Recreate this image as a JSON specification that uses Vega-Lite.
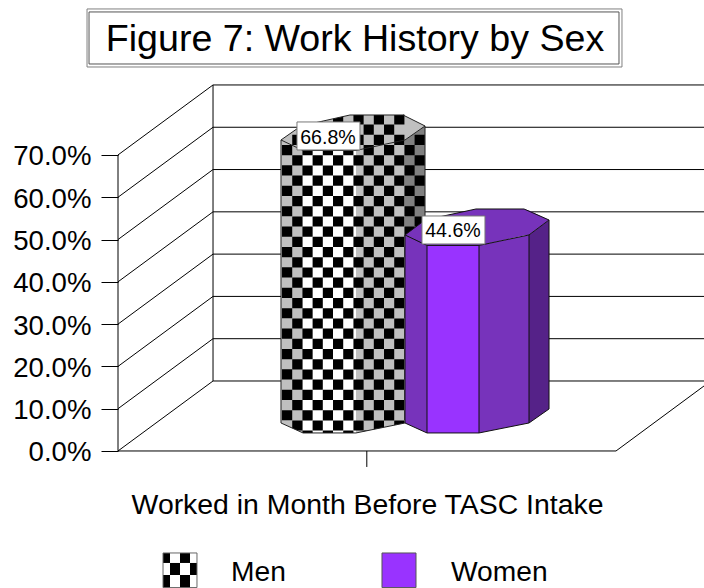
{"$schema":"https://vega.github.io/schema/vega-lite/v6.json","width":586,"height":588,"autosize":"none","padding":{"left":118,"top":0,"right":0,"bottom":0},"background":"white","config":{"view":{"stroke":null},"font":"Liberation Sans"},
"datasets":{
"grid":[
{"x":19.08,"x2":117.67,"y":16.55,"y2":16.55},{"x":19.08,"x2":117.67,"y":26.55,"y2":26.55},{"x":19.08,"x2":117.67,"y":36.55,"y2":36.55},{"x":19.08,"x2":117.67,"y":46.55,"y2":46.55},{"x":19.08,"x2":117.67,"y":56.55,"y2":56.55},{"x":19.08,"x2":117.67,"y":66.55,"y2":66.55},{"x":19.08,"x2":117.67,"y":76.55,"y2":76.55},{"x":19.08,"x2":117.67,"y":86.55,"y2":86.55},
{"x":0,"x2":19.08,"y":0,"y2":16.55},{"x":0,"x2":19.08,"y":10,"y2":26.55},{"x":0,"x2":19.08,"y":20,"y2":36.55},{"x":0,"x2":19.08,"y":30,"y2":46.55},{"x":0,"x2":19.08,"y":40,"y2":56.55},{"x":0,"x2":19.08,"y":50,"y2":66.55},{"x":0,"x2":19.08,"y":60,"y2":76.55},{"x":0,"x2":19.08,"y":70,"y2":86.55},
{"x":0,"x2":0,"y":0,"y2":70},{"x":19.08,"x2":19.08,"y":16.55,"y2":86.55},{"x":0,"x2":100,"y":0,"y2":0},{"x":100,"x2":117.67,"y":0,"y2":15.37},{"x":49.96,"x2":49.96,"y":0,"y2":-3.78}],
"faces":[
{"bar":"Men","part":"left","x":32.73,"y":6.62,"y2":73.54},{"bar":"Men","part":"left","x":37.15,"y":4.26,"y2":71.06},
{"bar":"Men","part":"front","x":37.15,"y":4.26,"y2":71.06},{"bar":"Men","part":"front","x":47.79,"y":4.26,"y2":71.06},
{"bar":"Men","part":"right","x":47.79,"y":4.26,"y2":71.06},{"bar":"Men","part":"right","x":57.63,"y":6.62,"y2":73.54},
{"bar":"Men","part":"side","x":57.63,"y":6.62,"y2":73.54},{"bar":"Men","part":"side","x":61.65,"y":9.93,"y2":76.85},
{"bar":"Men","part":"cap","x":32.73,"y":73.54,"y2":73.54},{"bar":"Men","part":"cap","x":36.75,"y":76.85,"y2":71.29},{"bar":"Men","part":"cap","x":37.15,"y":76.95,"y2":71.06},{"bar":"Men","part":"cap","x":46.59,"y":79.45,"y2":71.06},{"bar":"Men","part":"cap","x":47.79,"y":79.45,"y2":71.06},{"bar":"Men","part":"cap","x":57.23,"y":79.45,"y2":73.45},{"bar":"Men","part":"cap","x":57.63,"y":79.21,"y2":73.54},{"bar":"Men","part":"cap","x":61.65,"y":76.85,"y2":76.85},
{"bar":"Mask","part":"below","x":32.73,"y":6.62,"y2":3.55},{"bar":"Mask","part":"below","x":37.15,"y":4.26,"y2":3.55},{"bar":"Mask","part":"below","x":47.79,"y":4.26,"y2":3.55},{"bar":"Mask","part":"below","x":57.63,"y":6.62,"y2":3.55},
{"bar":"Mask","part":"above","x":36.75,"y":76.85,"y2":79.92},{"bar":"Mask","part":"above","x":46.59,"y":79.45,"y2":79.92},{"bar":"Mask","part":"above","x":57.23,"y":79.45,"y2":79.92},
{"bar":"Women","part":"wleft","x":57.63,"y":6.62,"y2":51.08},{"bar":"Women","part":"wleft","x":62.05,"y":4.26,"y2":48.6},
{"bar":"Women","part":"wfront","x":62.05,"y":4.26,"y2":48.6},{"bar":"Women","part":"wfront","x":72.49,"y":4.26,"y2":48.6},
{"bar":"Women","part":"wright","x":72.49,"y":4.26,"y2":48.6},{"bar":"Women","part":"wright","x":82.53,"y":6.62,"y2":51.08},
{"bar":"Women","part":"wside","x":82.53,"y":6.62,"y2":51.08},{"bar":"Women","part":"wside","x":86.55,"y":9.93,"y2":54.62},
{"bar":"Women","part":"wcap","x":57.63,"y":51.08,"y2":51.08},{"bar":"Women","part":"wcap","x":61.65,"y":54.62,"y2":48.84},{"bar":"Women","part":"wcap","x":62.05,"y":54.72,"y2":48.6},{"bar":"Women","part":"wcap","x":71.89,"y":57.22,"y2":48.6},{"bar":"Women","part":"wcap","x":72.49,"y":57.22,"y2":48.6},{"bar":"Women","part":"wcap","x":81.53,"y":57.22,"y2":50.94},{"bar":"Women","part":"wcap","x":82.53,"y":56.89,"y2":51.08},{"bar":"Women","part":"wcap","x":86.55,"y":54.62,"y2":54.62}],
"checks":[
{"x":33.96,"y":72.36,"y2":3.55},{"x":36.01,"y":74.77,"y2":3.55},{"x":38.06,"y":77.18,"y2":3.55},{"x":40.1,"y":79.59,"y2":3.55},{"x":42.15,"y":77.18,"y2":3.55},{"x":44.2,"y":79.59,"y2":3.55},{"x":46.25,"y":77.18,"y2":3.55},{"x":48.3,"y":79.59,"y2":3.55},{"x":50.34,"y":77.18,"y2":3.55},{"x":52.39,"y":79.59,"y2":3.55},{"x":54.44,"y":77.18,"y2":3.55},{"x":56.49,"y":79.59,"y2":3.55},{"x":58.54,"y":72.36,"y2":7.33},{"x":60.58,"y":74.77,"y2":7.33}],
"menEdges":[
{"x":32.73,"x2":32.73,"y":6.62,"y2":73.54},{"x":32.73,"x2":37.15,"y":6.62,"y2":4.26},{"x":37.15,"x2":47.79,"y":4.26,"y2":4.26},{"x":47.79,"x2":57.63,"y":4.26,"y2":6.62},
{"x":32.73,"x2":36.75,"y":73.54,"y2":76.85},{"x":36.75,"x2":46.59,"y":76.85,"y2":79.45},{"x":46.59,"x2":57.23,"y":79.45,"y2":79.45},{"x":57.23,"x2":61.65,"y":79.45,"y2":76.85},{"x":61.65,"x2":57.63,"y":76.85,"y2":73.54},{"x":57.63,"x2":47.79,"y":73.54,"y2":71.06},{"x":47.79,"x2":37.15,"y":71.06,"y2":71.06},{"x":37.15,"x2":32.73,"y":71.06,"y2":73.54},{"x":61.65,"x2":61.65,"y":76.85,"y2":9.93}],
"womenEdges":[
{"x":57.63,"x2":57.63,"y":6.62,"y2":51.08},{"x":62.05,"x2":62.05,"y":4.26,"y2":48.6},{"x":72.49,"x2":72.49,"y":4.26,"y2":48.6},{"x":82.53,"x2":82.53,"y":6.62,"y2":51.08},{"x":86.55,"x2":86.55,"y":9.93,"y2":54.62},
{"x":57.63,"x2":62.05,"y":6.62,"y2":4.26},{"x":62.05,"x2":72.49,"y":4.26,"y2":4.26},{"x":72.49,"x2":82.53,"y":4.26,"y2":6.62},{"x":82.53,"x2":86.55,"y":6.62,"y2":9.93},
{"x":57.63,"x2":61.65,"y":51.08,"y2":54.62},{"x":61.65,"x2":71.89,"y":54.62,"y2":57.22},{"x":71.89,"x2":81.53,"y":57.22,"y2":57.22},{"x":81.53,"x2":86.55,"y":57.22,"y2":54.62},{"x":86.55,"x2":82.53,"y":54.62,"y2":51.08},{"x":82.53,"x2":72.49,"y":51.08,"y2":48.6},{"x":72.49,"x2":62.05,"y":48.6,"y2":48.6},{"x":62.05,"x2":57.63,"y":48.6,"y2":51.08}],
"boxes":[
{"kind":"label","x":35.94,"x2":48.59,"y":77.8,"y2":71.18},{"kind":"label","x":61.04,"x2":73.69,"y":55.57,"y2":48.95},
{"kind":"titleOuter","x":-6.22,"x2":101.2,"y":104.52,"y2":90.8},{"kind":"titleInner","x":-5.82,"x2":100.6,"y":103.81,"y2":91.51},
{"kind":"menSwatch","x":9.04,"x2":15.86,"y":-24.12,"y2":-32.3},{"kind":"womenSwatch","x":53.01,"x2":59.84,"y":-24.12,"y2":-32.3},
{"kind":"cell","x":9.04,"x2":10.44,"y":-24.12,"y2":-26.48},{"kind":"cell","x":12.45,"x2":14.46,"y":-24.12,"y2":-26.48},{"kind":"cell","x":10.44,"x2":12.45,"y":-26.48,"y2":-29.32},{"kind":"cell","x":14.46,"x2":15.86,"y":-26.48,"y2":-29.32},{"kind":"cell","x":9.04,"x2":10.44,"y":-29.32,"y2":-32.3},{"kind":"cell","x":12.45,"x2":14.46,"y":-29.32,"y2":-32.3}],
"texts":[
{"kind":"value","label":"66.8%","x":42.17,"y":74.1},{"kind":"value","label":"44.6%","x":67.27,"y":51.9},
{"kind":"title","label":"Figure 7: Work History by Sex","x":47.59,"y":97.19},
{"kind":"xtitle","label":"Worked in Month Before TASC Intake","x":50.1,"y":-12.77},
{"kind":"legend","label":"Men","x":22.69,"y":-28.87},{"kind":"legend","label":"Women","x":66.87,"y":-28.87}]
},
"encoding":{
"x":{"field":"x","type":"quantitative","scale":{"domain":[0,117.67],"nice":false,"zero":false},"axis":null},
"y":{"field":"y","type":"quantitative","scale":{"domain":[-32.4,106.64],"nice":false,"zero":false},"axis":{"values":[0,10,20,30,40,50,60,70],"title":null,"grid":false,"domain":false,"tickSize":17,"tickColor":"#000","labelPadding":10,"labelOffset":2,"labelFont":"Liberation Sans","labelFontSize":27.6,"labelColor":"#000","labelExpr":"format(datum.value,'.1f')+'%'"}}
},
"layer":[
{"data":{"name":"grid"},"mark":{"type":"rule","color":"#000","strokeWidth":1},"encoding":{"x2":{"field":"x2"},"y2":{"field":"y2"}}},
{"data":{"name":"faces"},"transform":[{"filter":"datum.bar==='Men'"}],"mark":{"type":"area","interpolate":"linear"},"encoding":{"y2":{"field":"y2"},"color":{"field":"part","type":"nominal","legend":null,"scale":{"domain":["left","front","right","side","cap","below","above","wleft","wfront","wright","wside","wcap"],"range":["#c0c0c0","#ffffff","#c0c0c0","#808080","#c0c0c0","#ffffff","#ffffff","#7733bb","#9933ff","#7733bb","#552288","#7733bb"]}}}},
{"data":{"name":"checks"},"mark":{"type":"rule","color":"#000","strokeWidth":10.2,"strokeDash":[10.2,10.2],"strokeCap":"butt"},"encoding":{"y2":{"field":"y2"}}},
{"data":{"name":"faces"},"transform":[{"filter":"datum.bar==='Mask'"}],"mark":{"type":"area","interpolate":"linear"},"encoding":{"y2":{"field":"y2"},"color":{"field":"part","type":"nominal","legend":null}}},
{"data":{"name":"menEdges"},"mark":{"type":"rule","color":"#222","strokeWidth":1},"encoding":{"x2":{"field":"x2"},"y2":{"field":"y2"}}},
{"data":{"name":"faces"},"transform":[{"filter":"datum.bar==='Women'"}],"mark":{"type":"area","interpolate":"linear"},"encoding":{"y2":{"field":"y2"},"color":{"field":"part","type":"nominal","legend":null}}},
{"data":{"name":"womenEdges"},"mark":{"type":"rule","color":"#111","strokeWidth":1},"encoding":{"x2":{"field":"x2"},"y2":{"field":"y2"}}},
{"data":{"name":"boxes"},"transform":[{"filter":"datum.kind==='label'"}],"mark":{"type":"rect","fill":"#ffffff","stroke":"#777","strokeWidth":1},"encoding":{"x2":{"field":"x2"},"y2":{"field":"y2"}}},
{"data":{"name":"boxes"},"transform":[{"filter":"datum.kind==='titleOuter'"}],"mark":{"type":"rect","fill":null,"stroke":"#808080","strokeWidth":1},"encoding":{"x2":{"field":"x2"},"y2":{"field":"y2"}}},
{"data":{"name":"boxes"},"transform":[{"filter":"datum.kind==='titleInner'"}],"mark":{"type":"rect","fill":null,"stroke":"#555","strokeWidth":1},"encoding":{"x2":{"field":"x2"},"y2":{"field":"y2"}}},
{"data":{"name":"boxes"},"transform":[{"filter":"datum.kind==='cell'"}],"mark":{"type":"rect","fill":"#000"},"encoding":{"x2":{"field":"x2"},"y2":{"field":"y2"}}},
{"data":{"name":"boxes"},"transform":[{"filter":"datum.kind==='menSwatch'"}],"mark":{"type":"rect","fill":null,"stroke":"#666","strokeWidth":1},"encoding":{"x2":{"field":"x2"},"y2":{"field":"y2"}}},
{"data":{"name":"boxes"},"transform":[{"filter":"datum.kind==='womenSwatch'"}],"mark":{"type":"rect","fill":"#9933ff","stroke":"#555","strokeWidth":1},"encoding":{"x2":{"field":"x2"},"y2":{"field":"y2"}}},
{"data":{"name":"texts"},"transform":[{"filter":"datum.kind==='value'"}],"mark":{"type":"text","font":"Liberation Sans","fontSize":19.6,"color":"#000","align":"center","baseline":"middle"},"encoding":{"text":{"field":"label"}}},
{"data":{"name":"texts"},"transform":[{"filter":"datum.kind==='title'"}],"mark":{"type":"text","font":"Liberation Sans","fontSize":37.6,"color":"#000","align":"center","baseline":"middle"},"encoding":{"text":{"field":"label"}}},
{"data":{"name":"texts"},"transform":[{"filter":"datum.kind==='xtitle'"}],"mark":{"type":"text","font":"Liberation Sans","fontSize":28.4,"color":"#000","align":"center","baseline":"middle"},"encoding":{"text":{"field":"label"}}},
{"data":{"name":"texts"},"transform":[{"filter":"datum.kind==='legend'"}],"mark":{"type":"text","font":"Liberation Sans","fontSize":28.2,"color":"#000","align":"left","baseline":"middle"},"encoding":{"text":{"field":"label"}}}
]}
